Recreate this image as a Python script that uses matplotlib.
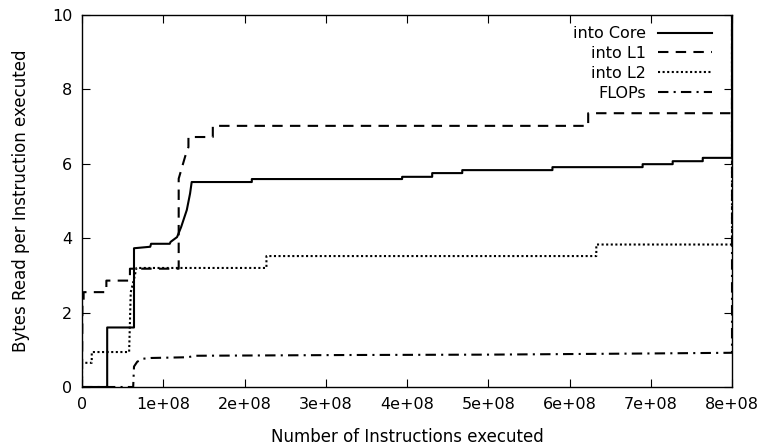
import matplotlib
matplotlib.use("Agg")
import matplotlib.pyplot as plt
import numpy as np

# traces (x in units of 1e8 instructions)
core_x = [0, 0.31, 0.31, 0.64, 0.64, 0.84, 0.85, 1.08, 1.09, 1.17, 1.22, 1.29, 1.33, 1.35,
          2.09, 2.09, 3.94, 3.94, 4.31, 4.31, 4.68, 4.68, 5.79, 5.79, 6.90, 6.90,
          7.27, 7.27, 7.64, 7.64, 8.0, 8.0]
core_y = [0, 0, 1.6, 1.6, 3.73, 3.77, 3.85, 3.85, 3.9, 4.03, 4.3, 4.76, 5.2, 5.51,
          5.51, 5.59, 5.59, 5.65, 5.65, 5.75, 5.75, 5.83, 5.83, 5.91, 5.91, 5.99,
          5.99, 6.07, 6.07, 6.16, 6.16, 12]

l1_x = [0, 0.005, 0.02, 0.02, 0.3, 0.3, 0.59, 0.59, 1.19, 1.19, 1.27, 1.31, 1.31,
        1.61, 1.61, 6.23, 6.23, 8.0, 8.0]
l1_y = [0, 2.2, 2.2, 2.55, 2.55, 2.86, 2.86, 3.18, 3.18, 5.6, 6.2, 6.45, 6.72,
        6.72, 7.02, 7.02, 7.36, 7.36, 12]

l2_x = [0, 0.0, 0.12, 0.12, 0.58, 0.6, 0.64, 0.67, 2.27, 2.27, 6.33, 6.33, 8.0, 8.0]
l2_y = [0, 0.65, 0.65, 0.94, 0.94, 2.55, 2.9, 3.2, 3.2, 3.52, 3.52, 3.83, 3.83, 12]

flops_x = [0, 0.63, 0.64, 0.68, 0.75, 0.85, 1.3, 1.4, 3.3, 5.0, 6.9, 8.0, 8.0]
flops_y = [0, 0, 0.55, 0.68, 0.76, 0.78, 0.8, 0.84, 0.86, 0.87, 0.9, 0.92, 12]

x_ticks = np.arange(0, 9) * 1e8
x_labels = ["0"] + ["%de+08" % i for i in range(1, 9)]

plt.rcParams['font.family'] = ['DejaVu Sans']
plt.rcParams['font.size'] = 11.5

fig = plt.figure(figsize=(7.65, 4.48), dpi=100)
ax = fig.add_axes([82 / 765, 61 / 448, 650 / 765, 372 / 448])

lw = 1.5
ax.plot(np.array(core_x) * 1e8, core_y, color='black', lw=lw, label='into Core')
ax.plot(np.array(l1_x) * 1e8, l1_y, color='black', lw=lw, dashes=(5, 3.5), label='into L1')
ax.plot(np.array(l2_x) * 1e8, l2_y, color='black', lw=lw, dashes=(1, 1.2), label='into L2')
ax.plot(np.array(flops_x) * 1e8, flops_y, color='black', lw=lw, dashes=(5, 2.5, 1, 2.5), label='FLOPs')

ax.set_xlim(0, 8e8)
ax.set_ylim(0, 10)
ax.set_xticks(x_ticks)
ax.set_xticklabels(x_labels)
ax.set_yticks(range(0, 11, 2))
ax.tick_params(direction='in', length=6, width=0.8, top=True, right=True, pad=7)
for s in ax.spines.values():
    s.set_linewidth(1.0)

ax.set_xlabel('Number of Instructions executed', fontsize=12, labelpad=12)
ax.set_ylabel('Bytes Read per Instruction executed', fontsize=12, labelpad=16)

ax.legend(loc='upper right', bbox_to_anchor=(1 - 9 / 650, 1), frameon=False,
          markerfirst=False, handlelength=3.4, labelspacing=0.3, borderaxespad=0.3,
          handletextpad=0.7)

fig.savefig('out.png', dpi=100)
